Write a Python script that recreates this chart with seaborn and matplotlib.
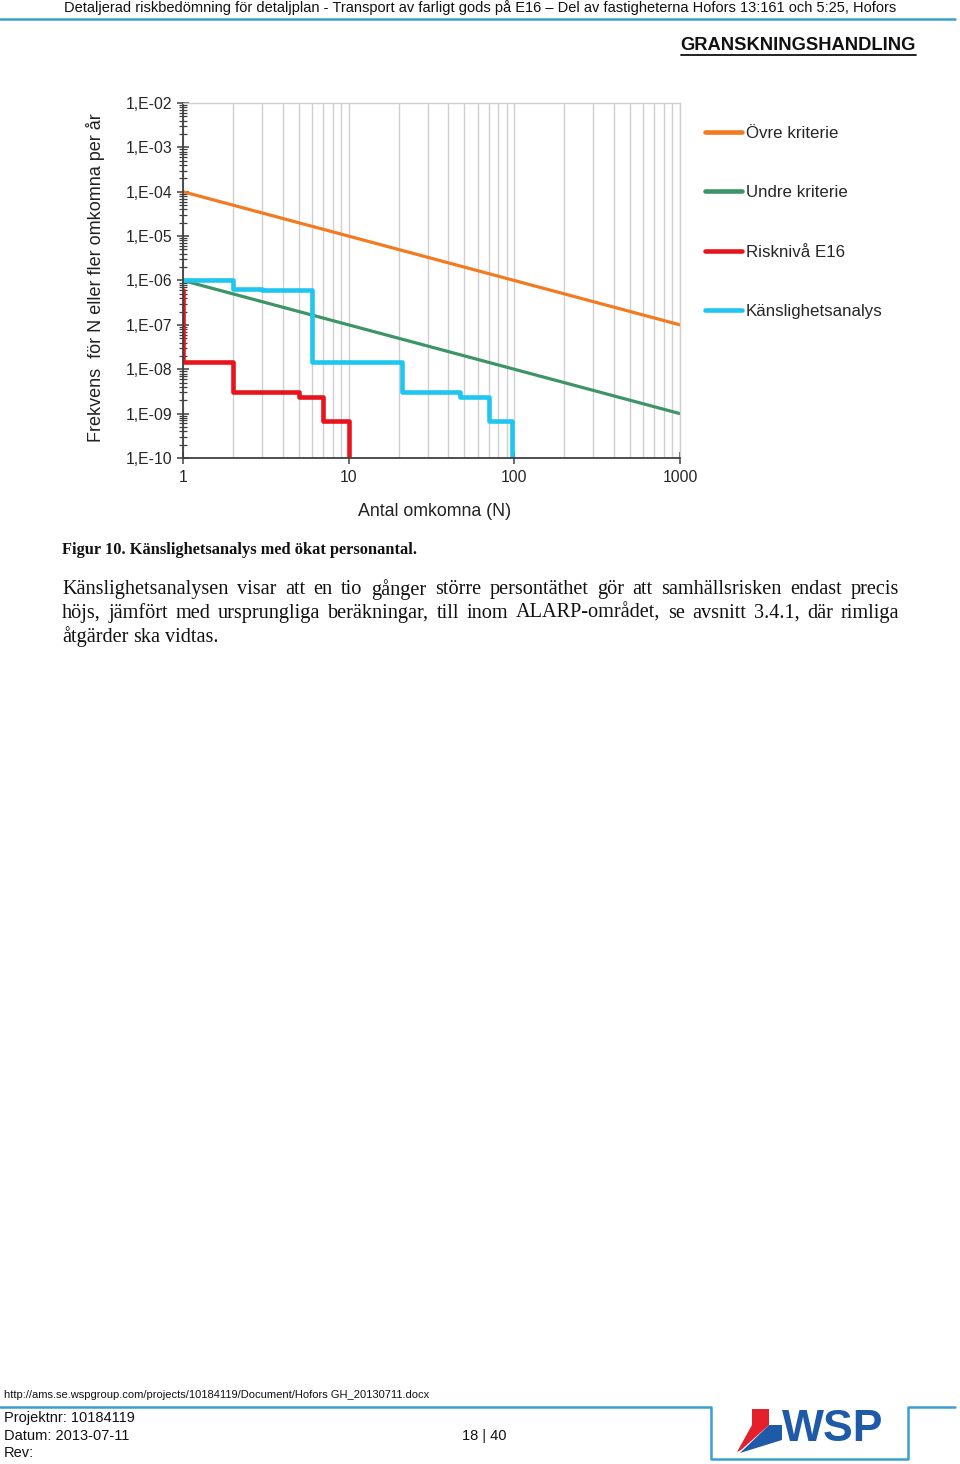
import numpy as np
import pandas as pd
import matplotlib
matplotlib.use('Agg')
import matplotlib.pyplot as plt
import matplotlib.ticker as mticker
from matplotlib.lines import Line2D
from matplotlib.patches import Polygon
import seaborn as sns

# --- data ---
# criteria lines (straight on log-log)
ovre_N = [1, 1000]
ovre_F = [1e-4, 1e-7]
undre_N = [1, 1000]
undre_F = [1e-6, 1e-9]

# step curves (steps-post: level holds until next N)
risk_N = [1, 1, 2, 5, 7, 10]
risk_F = [6.0e-7, 1.43e-8, 3.1e-9, 2.4e-9, 6.8e-10, 1e-11]
kansl_N = [1, 2, 3, 6, 21, 47, 70, 97]
kansl_F = [1.0e-6, 6.3e-7, 6.0e-7, 1.43e-8, 3.1e-9, 2.4e-9, 6.8e-10, 1e-11]

labels = ['Övre kriterie', 'Undre kriterie', 'Risknivå E16', 'Känslighetsanalys']
colors = ['#f27a21', '#3d9466', '#e8141b', '#1ec6f0']

sns.set_style('white')
plt.rcParams['font.family'] = ['Liberation Sans', 'DejaVu Sans']

W, H = 960, 1464
fig = plt.figure(figsize=(W / 100, H / 100), dpi=100)


def fx(x):
    return x / W


def fy(y):
    return 1 - y / H


ax = fig.add_axes([fx(183), fy(458), fx(680) - fx(183), (458 - 103) / H])
ax.set_xscale('log')
ax.set_yscale('log')

sns.lineplot(x=ovre_N, y=ovre_F, ax=ax, color=colors[0], lw=2.3, label=labels[0],
             estimator=None, sort=False)
sns.lineplot(x=undre_N, y=undre_F, ax=ax, color=colors[1], lw=2.3, label=labels[1],
             estimator=None, sort=False)
sns.lineplot(x=risk_N, y=risk_F, ax=ax, color=colors[2], lw=3.3, label=labels[2],
             estimator=None, sort=False, drawstyle='steps-post')
sns.lineplot(x=kansl_N, y=kansl_F, ax=ax, color=colors[3], lw=3.3, label=labels[3],
             estimator=None, sort=False, drawstyle='steps-post')

ax.set_xlim(1, 1000)
ax.set_ylim(1e-10, 1e-2)

ax.xaxis.set_major_locator(mticker.LogLocator(base=10, numticks=10))
ax.xaxis.set_minor_locator(mticker.LogLocator(base=10, subs=np.arange(2, 10), numticks=20))
ax.xaxis.set_major_formatter(mticker.FuncFormatter(lambda v, p: f'{v:g}'))
ax.xaxis.set_minor_formatter(mticker.NullFormatter())
ax.yaxis.set_major_locator(mticker.LogLocator(base=10, numticks=20))
ax.yaxis.set_minor_locator(mticker.LogLocator(base=10, subs=np.arange(2, 10), numticks=40))
ax.yaxis.set_major_formatter(mticker.FuncFormatter(
    lambda v, p: '1,E-%02d' % int(round(-np.log10(v)))))
ax.yaxis.set_minor_formatter(mticker.NullFormatter())

ax.grid(False)
ax.grid(True, which='both', axis='x', color='#cfcfcf', lw=1.0)
ax.set_axisbelow(True)

for s in ['left', 'bottom']:
    ax.spines[s].set_color('#404040')
    ax.spines[s].set_linewidth(1.3)
for s in ['top', 'right']:
    ax.spines[s].set_color('#cfcfcf')
    ax.spines[s].set_linewidth(1.0)

ax.tick_params(axis='y', which='major', direction='inout', length=9, width=1.1,
               color='#404040', labelsize=11.3, pad=3, left=True)
ax.tick_params(axis='y', which='minor', direction='inout', length=6, width=0.9,
               color='#404040', left=True)
ax.tick_params(axis='x', which='major', direction='inout', length=8, width=1.1,
               color='#404040', labelsize=11.3, pad=5, bottom=True)
ax.tick_params(axis='x', which='minor', length=0)

ax.set_xlabel('')
ax.set_ylabel('')
fig.text(fx(96), fy(278), 'Frekvens  för N eller fler omkomna per år', rotation=90,
         ha='center', va='center', fontsize=13, color='#222222')
fig.text(fx(435), fy(511), 'Antal omkomna (N)', ha='center', va='center',
         fontsize=12.8, color='#222222')

leg = ax.legend(loc='upper left', bbox_to_anchor=(fx(705), fy(126)),
                bbox_transform=fig.transFigure, frameon=False, fontsize=12.2,
                labelspacing=2.62, handlelength=2.2, handletextpad=0.2,
                borderpad=0, borderaxespad=0)
for h in leg.legend_handles:
    h.set_linewidth(3.3)
    h.set_solid_capstyle('round')

# --- page header ---
blue = '#3a9fd3'
hdr = fig.text(fx(480), fy(8), 'Detaljerad riskbedömning för detaljplan - Transport av farligt gods '
               'på E16 – Del av fastigheterna Hofors 13:161 och 5:25, Hofors',
               ha='center', va='center', fontsize=10.5, color='#111111')
renderer = fig.canvas.get_renderer()
wpx = hdr.get_window_extent(renderer).width
hdr.set_fontsize(10.5 * 836 / wpx)
fig.add_artist(Line2D([0, fx(955)], [fy(18.5), fy(18.5)], color=blue, lw=1.8))

gr = fig.text(fx(916), fy(45), 'GRANSKNINGSHANDLING', ha='right', va='center',
              fontsize=13.2, fontweight='bold', color='#111111')
ext = gr.get_window_extent(renderer)
fig.add_artist(Line2D([ext.x0 / W, ext.x1 / W], [fy(55), fy(55)], color='#111111', lw=1.3))

# --- caption and body text ---
serif = ['Liberation Serif', 'DejaVu Serif']
fig.text(fx(62), fy(550), 'Figur 10. Känslighetsanalys med ökat personantal.', ha='left',
         va='center', fontsize=11.8, fontweight='bold', family=serif, color='#111111')

para = [
    'Känslighetsanalysen visar att en tio gånger större persontäthet gör att samhällsrisken endast precis',
    'höjs, jämfört med ursprungliga beräkningar, till inom ALARP-området, se avsnitt 3.4.1, där rimliga',
    'åtgärder ska vidtas.',
]
line_y = [590, 613, 637]
left, right = 62, 899
for i, (line, yy) in enumerate(zip(para, line_y)):
    words = line.split(' ')
    objs = [fig.text(0, fy(yy), w, ha='left', va='center', fontsize=14.6, family=serif,
                     color='#111111') for w in words]
    widths = [o.get_window_extent(renderer).width for o in objs]
    if i < len(para) - 1:
        gap = (right - left - sum(widths)) / (len(words) - 1)
    else:
        gap = 5
    x = left
    for o, w in zip(objs, widths):
        o.set_x(fx(x))
        x += w + gap

# --- footer ---
fig.text(fx(4), fy(1395), 'http://ams.se.wspgroup.com/projects/10184119/Document/Hofors GH_20130711.docx',
         ha='left', va='center', fontsize=8, color='#111111')
fig.add_artist(Line2D([0, fx(711), fx(711), fx(908), fx(908), fx(955)],
                      [fy(1407), fy(1407), fy(1459), fy(1459), fy(1407), fy(1407)],
                      color=blue, lw=1.8))
for txt, yy in [('Projektnr: 10184119', 1418), ('Datum: 2013-07-11', 1436), ('Rev:', 1453)]:
    fig.text(fx(4), fy(yy), txt, ha='left', va='center', fontsize=10.5, color='#111111')
fig.text(fx(484), fy(1436), '18 | 40', ha='center', va='center', fontsize=10.5, color='#111111')

# WSP logo (simplified)
logo_blue = '#1f5aa6'
logo_red = '#e3202b'
fig.text(fx(782), fy(1441), 'WSP', ha='left', va='baseline', fontsize=32, fontweight='bold',
         color=logo_blue)
shapes = [
    ([(752, 1409), (769, 1409), (769, 1425), (752, 1425)], logo_red),
    ([(769, 1425), (782, 1425), (782, 1440), (769, 1440)], logo_blue),
    ([(752, 1425), (769, 1425), (741, 1450), (737, 1452)], logo_red),
    ([(769, 1425), (769, 1440), (782, 1440), (740, 1453)], logo_blue),
]
for pts, c in shapes:
    fig.add_artist(Polygon([(fx(a), fy(b)) for a, b in pts], closed=True, color=c, lw=0))

fig.savefig('out.png', dpi=100)
